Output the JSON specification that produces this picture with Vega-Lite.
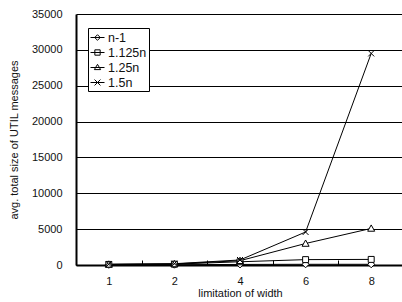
{
  "$schema": "https://vega.github.io/schema/vega-lite/v6.json",
  "autosize": {"type": "none"},
  "padding": {"left": 76, "top": 14, "right": 0, "bottom": 37},
  "width": 328,
  "height": 251,
  "background": "white",
  "title": {"text": "(a)", "fontSize": 20, "font": "Liberation Sans", "fontWeight": "normal", "anchor": "middle", "dx": -71, "baseline": "bottom", "offset": 8, "color": "black"},
  "config": {
    "view": {"stroke": null},
    "font": "Liberation Sans",
    "axis": {"labelFont": "Liberation Sans", "titleFont": "Liberation Sans", "labelFontSize": 11, "titleFontSize": 11, "titleFontWeight": "normal", "labelColor": "#111", "titleColor": "#111", "domainColor": "black", "tickColor": "black"}
  },
  "data": {"values": [
    {"w": 1, "s": "n-1", "v": 30}, {"w": 2, "s": "n-1", "v": 40}, {"w": 4, "s": "n-1", "v": 80}, {"w": 6, "s": "n-1", "v": 100}, {"w": 8, "s": "n-1", "v": 100},
    {"w": 1, "s": "1.125n", "v": 80}, {"w": 2, "s": "1.125n", "v": 120}, {"w": 4, "s": "1.125n", "v": 450}, {"w": 6, "s": "1.125n", "v": 750}, {"w": 8, "s": "1.125n", "v": 780},
    {"w": 1, "s": "1.25n", "v": 90}, {"w": 2, "s": "1.25n", "v": 150}, {"w": 4, "s": "1.25n", "v": 600}, {"w": 6, "s": "1.25n", "v": 3000}, {"w": 8, "s": "1.25n", "v": 5100},
    {"w": 1, "s": "1.5n", "v": 100}, {"w": 2, "s": "1.5n", "v": 180}, {"w": 4, "s": "1.5n", "v": 700}, {"w": 6, "s": "1.5n", "v": 4600}, {"w": 8, "s": "1.5n", "v": 29500}
  ]},
  "encoding": {
    "x": {"field": "w", "type": "ordinal", "scale": {"type": "band", "paddingInner": 0, "paddingOuter": 0},
      "axis": {"title": "limitation of width", "labelAngle": 0, "tickBand": "extent", "tickSize": -5, "domainWidth": 2, "labelPadding": 15, "titlePadding": 1, "grid": false}},
    "y": {"field": "v", "type": "quantitative", "scale": {"domain": [0, 35000], "nice": false},
      "axis": {"title": "avg. total size of UTIL messages", "values": [0, 5000, 10000, 15000, 20000, 25000, 30000, 35000], "format": "d", "ticks": false, "labelPadding": 14, "domainWidth": 2, "grid": true, "gridColor": "black", "gridOpacity": 1, "gridWidth": 1, "titlePadding": 12}}
  },
  "layer": [
    {"mark": {"type": "line", "color": "black", "strokeWidth": 1}, "encoding": {"detail": {"field": "s"}}},
    {"mark": {"type": "point", "filled": false, "fill": "white", "fillOpacity": 1, "stroke": "black", "strokeWidth": 1, "opacity": 1, "size": 49},
      "encoding": {"shape": {"field": "s", "type": "nominal",
        "scale": {"domain": ["n-1", "1.125n", "1.25n", "1.5n"], "range": ["M0,-1L1,0L0,1L-1,0Z", "M-0.85,-0.85H0.85V0.85H-0.85Z", "M0,-1L1,0.8L-1,0.8Z", "M-0.85,-0.85L0.85,0.85M-0.85,0.85L0.85,-0.85"]},
        "legend": null}}
    },
    {"transform": [{"filter": "datum.v < 0"}],
     "mark": {"type": "point", "filled": false, "stroke": "black", "strokeWidth": 1, "opacity": 1, "size": 196},
      "encoding": {"shape": {"field": "s", "type": "nominal",
        "scale": {"domain": ["n-1", "1.125n", "1.25n", "1.5n"], "range": ["M-1,0L1,0M0,-0.4L0.4,0L0,0.4L-0.4,0Z", "M-1,0L1,0M-0.38,-0.38H0.38V0.38H-0.38Z", "M-1,0L1,0M0,-0.45L0.45,0.3L-0.45,0.3Z", "M-1,0L1,0M-0.42,-0.42L0.42,0.42M-0.42,0.42L0.42,-0.42"]},
        "legend": {"title": null, "orient": "none", "legendX": 12, "legendY": 14, "padding": 2, "strokeColor": "black", "fillColor": "white", "labelFontSize": 12.5, "labelFont": "Liberation Sans", "labelColor": "#111", "rowPadding": 1, "labelOffset": 3, "symbolSize": 196, "symbolStrokeColor": "black", "symbolStrokeWidth": 1}}}
    }
  ],
  "resolve": {"scale": {"shape": "independent"}, "legend": {"shape": "independent"}}
}
